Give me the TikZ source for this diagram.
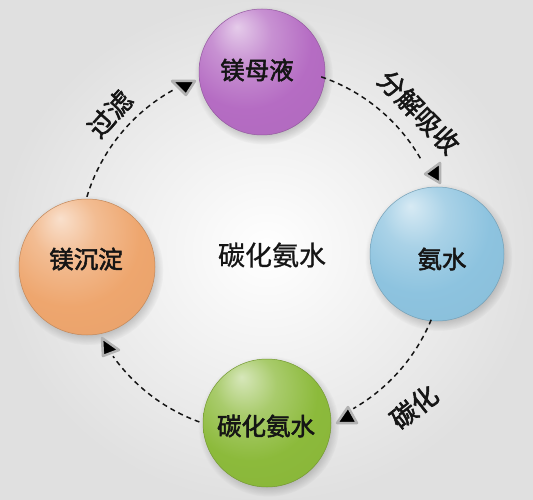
\documentclass[tikz,border=0pt]{standalone}
\usepackage{fontspec}
\newfontfamily\cjk[FakeBold=0.8]{Noto Sans CJK SC}
\newfontfamily\cjkb[FakeBold=2.2]{Noto Sans CJK SC}
\usetikzlibrary{shadows,fadings}
\definecolor{sphP}{HTML}{B56CC3}
\definecolor{sphB}{HTML}{8DC3DF}
\definecolor{sphG}{HTML}{8CBA3B}
\definecolor{sphO}{HTML}{EEA66E}
\definecolor{ink}{HTML}{151515}
\colorlet{base}{sphP}
\pgfdeclareradialshading[base]{sphere}{\pgfpoint{-10bp}{18bp}}{%
  color(0bp)=(base!35!white); color(12bp)=(base!75!white); color(26bp)=(base);
  color(58bp)=(base!95!black); color(70bp)=(base!86!black)}
\tikzset{
  ball/.style={circle, inner sep=0pt, minimum size=#1, shade, shading=sphere,
    draw=base!82!black, line width=0.5pt,
    circular drop shadow={shadow xshift=1.5pt, shadow yshift=-3pt, opacity=0.28, fill=black!70}},
  balltext/.style={font=\cjkb\fontsize{24.5}{24.5}\selectfont, text=ink, inner sep=0pt},
  steplabel/.style={font=\cjkb\fontsize{26}{26}\selectfont, text=ink, inner sep=0pt},
  flow/.style={draw=ink, dashed, dash pattern=on 5pt off 4pt, line width=1.5pt},
  tip/.style={fill=black, draw=black!30, line width=2.5pt, line join=round},
}
\begin{document}
\begin{tikzpicture}[x=1pt, y=-1pt]
\useasboundingbox (0,0) rectangle (533,500);
\shade[inner color=white, outer color=black!12] (0,0) rectangle (533,500);

% spheres
\begin{scope}\colorlet{base}{sphP}\node[ball=126pt] (M) at (262,72) {};\end{scope}
\begin{scope}\colorlet{base}{sphB}\node[ball=134pt] (A) at (437,254) {};\end{scope}
\begin{scope}\colorlet{base}{sphG}\node[ball=128pt] (T) at (267,423) {};\end{scope}
\begin{scope}\colorlet{base}{sphO}\node[ball=136pt] (D) at (87,267) {};\end{scope}

\node[balltext] (tM) at (257,70) {镁母液};
\node[balltext] (tA) at (442,259) {氨水};
\node[balltext] (tT) at (266,426) {碳化氨水};
\node[balltext] (tD) at (86,259) {镁沉淀};

\node[font=\cjk\fontsize{27}{27}\selectfont, text=ink, inner sep=0pt] (C) at (272,255) {碳化氨水};

% cycle arcs
\coordinate (c) at (262,250);
\coordinate (s1) at ([shift={(c)}]196.9:183);
\coordinate (s2) at ([shift={(c)}]288.9:183);
\coordinate (s3) at ([shift={(c)}]22.4:183);
\coordinate (s4) at ([shift={(c)}]110:183);
\draw[flow] (s1) arc[start angle=196.9, end angle=241.5, radius=183];
\draw[flow] (s2) arc[start angle=288.9, end angle=330.8, radius=183];
\draw[flow] (s3) arc[start angle=22.4, end angle=60.1, radius=183];
\draw[flow] (s4) arc[start angle=110, end angle=144.5, radius=183];

% arrow heads
\path[tip] (172,81) -- (195,81) -- (186,95) -- cycle;
\path[tip] (440,163) -- (440,183) -- (425,174) -- cycle;
\path[tip] (337,423) -- (357,423) -- (348,407) -- cycle;
\path[tip] (102,338) -- (103,356) -- (119,350) -- cycle;

% step labels
\node[steplabel, rotate=48] (l1) at (110,114) {过滤};
\node[steplabel, rotate=-46] (l2) at (419,112) {分解吸收};
\node[steplabel, rotate=38] (l3) at (414,407) {碳化};
\end{tikzpicture}
\end{document}
